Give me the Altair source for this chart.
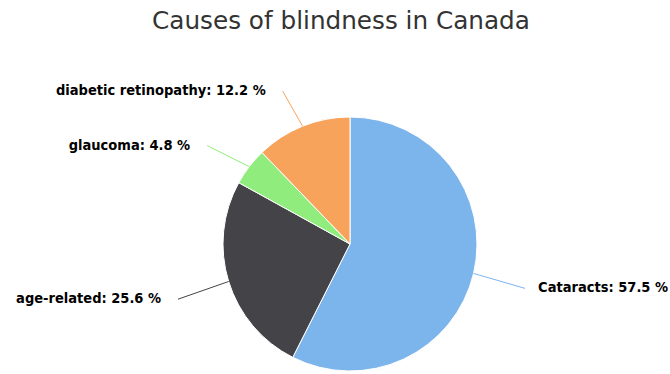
import altair as alt
import pandas as pd

causes = ["Cataracts", "age-related", "glaucoma", "diabetic retinopathy"]
shares = [57.5, 25.6, 4.8, 12.2]
colors = ["#7cb5ec", "#434348", "#90ed7d", "#f7a35c"]

df = pd.DataFrame({"cause": causes, "value": shares, "idx": list(range(len(causes)))})

W, H, TOP = 670, 374, 40
CX, CY, R = 350, 204, 127
LRX, LRY, LDY = 180, 170, 5

color_scale = alt.Scale(domain=causes, range=colors)
xs = alt.Scale(domain=[0, W], nice=False, zero=False)
ys = alt.Scale(domain=[0, H - TOP], nice=False, zero=False, reverse=True)

base = alt.Chart(df)

pie = base.mark_arc(outerRadius=R, stroke="white", strokeWidth=1).encode(
    theta=alt.Theta("value:Q", stack=True),
    color=alt.Color("cause:N", scale=color_scale, legend=None),
    order=alt.Order("idx:Q"),
    x=alt.value(CX),
    y=alt.value(CY),
)

geo = base.transform_window(
    cum="sum(value)", sort=[alt.SortField("idx")], frame=[None, 0]
).transform_joinaggregate(
    total="sum(value)"
).transform_calculate(
    mid="2*PI*(datum.cum - datum.value/2)/datum.total"
).transform_calculate(
    ex=f"{CX} + {R}*sin(datum.mid)",
    ey=f"{CY} - {R}*cos(datum.mid)",
    px=f"{CX} + {LRX}*sin(datum.mid)",
    py=f"{CY} - {LRY}*cos(datum.mid) + {LDY}",
    right="sin(datum.mid) > 0",
    label="datum.cause + ': ' + format(datum.value, '.1f') + ' %'",
)

lines = geo.transform_calculate(
    k_edge="0", k_out="1"
).transform_fold(
    ["k_edge", "k_out"], as_=["key", "v"]
).transform_calculate(
    lx="datum.key == 'k_edge' ? datum.ex : datum.px",
    ly="datum.key == 'k_edge' ? datum.ey : datum.py",
).mark_line(strokeWidth=1).encode(
    x=alt.X("lx:Q", scale=xs, axis=None),
    y=alt.Y("ly:Q", scale=ys, axis=None),
    detail="cause:N",
    order=alt.Order("key:N"),
    color=alt.Color("cause:N", scale=color_scale, legend=None),
)

txt_style = dict(font="DejaVu Sans Condensed, DejaVu Sans", fontSize=14.5, fontWeight="bold",
                 color="#000000", baseline="middle")

right_labels = geo.transform_filter("datum.right").transform_calculate(
    tx="datum.px + 13"
).mark_text(align="left", **txt_style).encode(
    x=alt.X("tx:Q", scale=xs, axis=None),
    y=alt.Y("py:Q", scale=ys, axis=None),
    text="label:N",
)

left_labels = geo.transform_filter("!datum.right").transform_calculate(
    tx="datum.px - 17"
).mark_text(align="right", **txt_style).encode(
    x=alt.X("tx:Q", scale=xs, axis=None),
    y=alt.Y("py:Q", scale=ys, axis=None),
    text="label:N",
)

chart = alt.layer(pie, lines, right_labels, left_labels).properties(
    width=W,
    height=H - TOP,
    autosize=alt.AutoSizeParams(type="none"),
    padding={"left": 0, "right": 0, "top": TOP, "bottom": 0},
    title=alt.TitleParams(
        "Causes of blindness in Canada",
        font="DejaVu Sans",
        fontSize=24.7,
        fontWeight="normal",
        color="#333333",
        anchor="middle",
        offset=6,
        dx=6,
    ),
).configure_view(stroke=None)

chart.save("out.html", embed_options={"renderer": "svg", "actions": False})
